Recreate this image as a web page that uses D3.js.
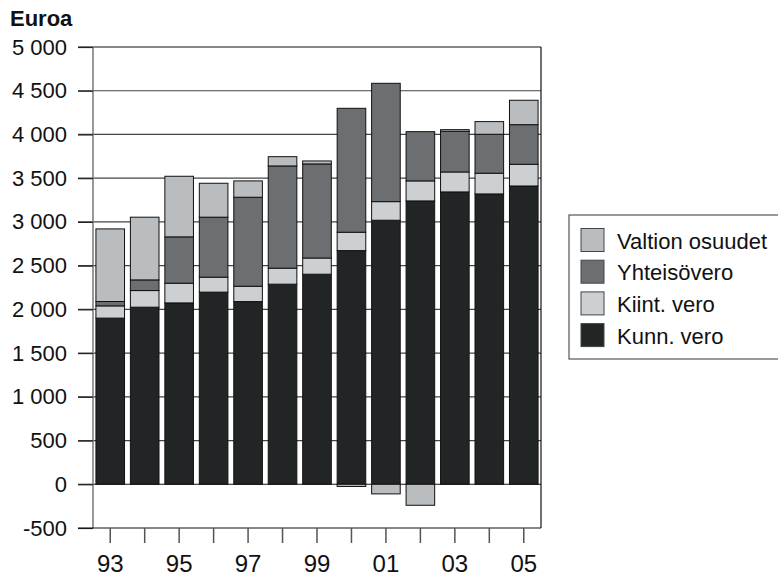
<!DOCTYPE html>
<meta charset='utf-8'>
<style>
	body { margin: 0; background: #fff; }
	text { font-family: 'Liberation Sans', Arial, sans-serif; fill: #111; }
</style>
<body>
<script src='https://cdn.jsdelivr.net/npm/d3@7/dist/d3.min.js'></script>
<script type='text/javascript'>
	// vuodet ja sarjat (euroa / asukas)
	var years = ['93', '94', '95', '96', '97', '98', '99', '00', '01', '02', '03', '04', '05'];
	var kunnVero = [1900, 2025, 2074, 2197, 2089, 2288, 2402, 2672, 3019, 3240, 3343, 3320, 3411];
	var kiintVero = [140, 190, 225, 171, 175, 183, 185, 210, 213, 229, 228, 237, 248];
	var yhteisoVero = [50, 122, 530, 686, 1018, 1169, 1076, 1417, 1353, 563, 465, 445, 453];
	var valtionOsuudet = [830, 717, 693, 388, 187, 106, 34, -25, -110, -240, 19, 145, 279];
	var yTicks = [-500, 0, 500, 1000, 1500, 2000, 2500, 3000, 3500, 4000, 4500, 5000];
	var xLabels = ['93', '95', '97', '99', '01', '03', '05'];

	var keys = ['kunn', 'kiint', 'yhteiso', 'valtion'];
	var names = {kunn: 'Kunn. vero', kiint: 'Kiint. vero', yhteiso: 'Yhteisövero', valtion: 'Valtion osuudet'};
	var colors = {kunn: '#222526', kiint: '#cdd0d2', yhteiso: '#6b6f71', valtion: '#b9bdbf'};

	var rows = years.map(function (y, i) {
		return {year: y, kunn: kunnVero[i], kiint: kiintVero[i], yhteiso: yhteisoVero[i], valtion: valtionOsuudet[i]};
	});

	var svgW = 778, svgH = 576;
	var plotL = 93, plotR = 541, plotT = 47, plotB = 528;

	var svg = d3.select('body').append('svg').attr('width', svgW).attr('height', svgH);

	var x = d3.scaleBand().domain(years).range([plotL, plotR]).paddingInner(0.17).paddingOuter(0.085);
	var y = d3.scaleLinear().domain([-500, 5000]).range([plotB, plotT]);

	// ruudukko
	svg.append('g').selectAll('line').data(yTicks.filter(function (t) { return t > -500; })).enter().append('line')
		.attr('x1', 78).attr('x2', plotR)
		.attr('y1', function (d) { return y(d); }).attr('y2', function (d) { return y(d); })
		.attr('stroke', function (d) { return d === 0 || d === 5000 ? '#111' : '#444'; })
		.attr('stroke-width', 1.2);

	svg.append('line').attr('x1', plotL).attr('x2', plotL).attr('y1', plotT).attr('y2', plotB)
		.attr('stroke', '#777').attr('stroke-width', 1.5);
	svg.append('line').attr('x1', plotR).attr('x2', plotR).attr('y1', plotT).attr('y2', plotB)
		.attr('stroke', '#111').attr('stroke-width', 1.2);

	var series = d3.stack().keys(keys).offset(d3.stackOffsetDiverging)(rows);

	svg.append('g').selectAll('g').data(series).enter().append('g')
		.attr('fill', function (s) { return colors[s.key]; })
		.selectAll('rect').data(function (s) { return s; }).enter().append('rect')
		.attr('x', function (d) { return x(d.data.year); })
		.attr('width', x.bandwidth())
		.attr('y', function (d) { return y(Math.max(d[0], d[1])); })
		.attr('height', function (d) { return Math.abs(y(d[0]) - y(d[1])); })
		.attr('stroke', '#111').attr('stroke-width', 1);

	// y-akseli
	var fmt = function (d) {
		var s = String(Math.abs(d)).replace(/\B(?=(\d{3})+(?!\d))/g, ' ');
		return (d < 0 ? '-' : '') + s;
	};
	var yAxis = svg.append('g').attr('transform', 'translate(' + plotL + ',0)')
		.call(d3.axisLeft(y).tickValues(yTicks).tickSize(15).tickPadding(11).tickFormat(fmt));
	yAxis.select('.domain').remove();
	yAxis.selectAll('line').attr('stroke', '#222').attr('stroke-width', 1.2);
	yAxis.selectAll('text').attr('font-size', 22).attr('font-family', "'Liberation Sans', Arial, sans-serif").attr('fill', '#111');

	// x-akseli
	var xAxis = svg.append('g').attr('transform', 'translate(0,' + plotB + ')')
		.call(d3.axisBottom(x).tickSize(15).tickPadding(12)
			.tickFormat(function (d) { return xLabels.indexOf(d) >= 0 ? d : ''; }));
	xAxis.select('.domain').attr('d', 'M78,0H' + plotR).attr('stroke', '#111').attr('stroke-width', 1.2);
	xAxis.selectAll('line').attr('stroke', '#555').attr('stroke-width', 1.5);
	xAxis.selectAll('text').attr('font-size', 24).attr('font-family', "'Liberation Sans', Arial, sans-serif").attr('fill', '#111');

	svg.append('text').attr('x', 10).attr('y', 26).attr('font-size', 22).attr('font-weight', 'bold').text('Euroa');

	// selite
	var legend = svg.append('g');
	legend.append('rect').attr('x', 569).attr('y', 215).attr('width', 260).attr('height', 144)
		.attr('fill', '#fff').attr('stroke', '#555').attr('stroke-width', 1.2);
	var items = legend.selectAll('g.item').data(keys.slice().reverse()).enter().append('g')
		.attr('class', 'item')
		.attr('transform', function (d, i) { return 'translate(581,' + (228.5 + i * 31.7) + ')'; });
	items.append('rect').attr('width', 23).attr('height', 23)
		.attr('fill', function (d) { return colors[d]; }).attr('stroke', '#444').attr('stroke-width', 1);
	items.append('text').attr('x', 36).attr('y', 20).attr('font-size', 22)
		.text(function (d) { return names[d]; });
</script>
